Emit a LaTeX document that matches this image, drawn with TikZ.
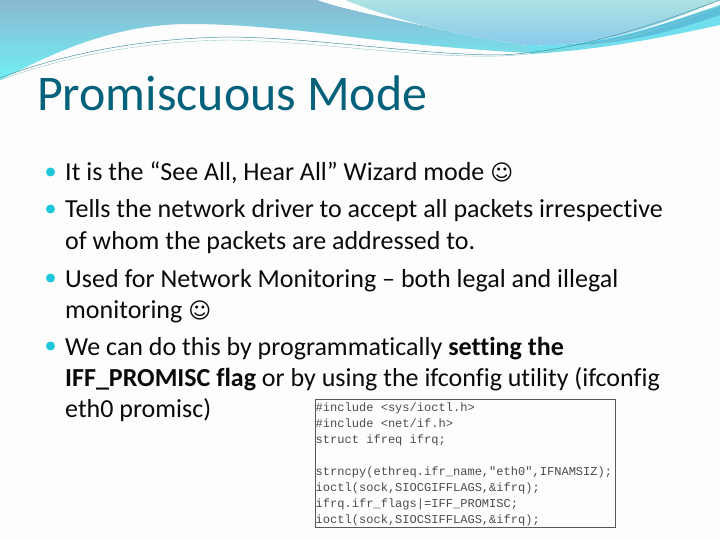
\documentclass[tikz,border=0pt]{standalone}
\usepackage{fontspec}
\setmainfont[Ligatures=NoCommon]{Carlito}
\newfontfamily\codefont{Liberation Mono}
\newfontfamily\symfont{DejaVu Sans}
\definecolor{titlecol}{HTML}{04617B}
\definecolor{bulletcol}{HTML}{1CC8DA}
\definecolor{bodycol}{HTML}{0A0A0A}
\definecolor{pagecol}{HTML}{FDFDFD}
\definecolor{waveA}{RGB}{138,184,210}
\definecolor{waveM}{RGB}{116,216,232}
\definecolor{waveB}{RGB}{112,240,244}
\definecolor{waveE}{RGB}{172,226,226}
\definecolor{waveF}{RGB}{136,200,236}
\definecolor{waveG}{RGB}{112,222,236}
\definecolor{waveH}{RGB}{92,192,220}
\definecolor{lineA}{RGB}{70,150,165}
\definecolor{lineB}{RGB}{150,200,205}
\tikzset{
  titletext/.style={anchor=base west,inner sep=0pt,text=titlecol,font=\fontsize{49.9}{50}\selectfont},
  bodytext/.style={anchor=base west,inner sep=0pt,text=bodycol,font=\fontsize{26}{26}\selectfont},
  codetext/.style={anchor=base west,inner sep=0pt,text=black!70,font=\codefont\fontsize{12.05}{12}\selectfont},
  bulletdot/.style={circle,fill=bulletcol,draw=none,minimum size=9pt,inner sep=0pt},
  codebox/.style={draw=black!65,line width=0.8pt,fill=pagecol}
}
\newcommand{\smileyface}{{\symfont\fontsize{22}{22}\selectfont ☺}}
\begin{document}
\begin{tikzpicture}[x=1pt,y=-1pt]
\useasboundingbox (0,0) rectangle (720,540);
\fill[pagecol] (0,0) rectangle (720,540);
% left wave
\shade[top color=waveA,middle color=waveM,bottom color=waveB]
 (0,0) -- (318,0) .. controls (340,9) and (440,30) .. (528,45) -- (530,53)
 .. controls (470,50) and (400,43) .. (360,38)
 .. controls (300,30) and (240,24) .. (190,24)
 .. controls (110,24) and (50,55) .. (0,80) -- cycle;
% white streak
\fill[pagecol] (318,0) .. controls (340,9) and (440,30) .. (528,45)
 .. controls (460,36) and (400,22) .. (345,0) -- cycle;
% right wave
\shade[top color=waveE,bottom color=waveF]
 (345,0) .. controls (400,22) and (460,36) .. (528,45)
 .. controls (600,48) and (660,25) .. (720,0) -- cycle;
\fill[waveG]
 (528,45) .. controls (600,48) and (660,25) .. (720,5) -- (720,25)
 .. controls (660,38) and (600,50) .. (530,54) -- cycle;
\fill[waveH]
 (560,45) .. controls (610,44) and (660,25) .. (720,6) -- (720,15)
 .. controls (660,36) and (610,46) .. (560,45) -- cycle;
% thin lines
\draw[line width=0.5pt,lineA]
 (0,78) .. controls (60,55) and (140,38) .. (230,37)
 .. controls (320,38) and (420,55) .. (500,55)
 .. controls (570,52) and (640,30) .. (720,0);
\draw[line width=0.4pt,lineB]
 (0,80) .. controls (60,58) and (140,41) .. (230,40)
 .. controls (320,42) and (420,58) .. (500,56)
 .. controls (570,53) and (650,36) .. (720,6);
% title
\node[titletext] (title) at (37,110.5) {Promiscuous Mode};
% bullets
\node[bulletdot] (b1) at (50.5,172) {};
\node[bulletdot] (b2) at (50.5,209) {};
\node[bulletdot] (b3) at (50.5,278) {};
\node[bulletdot] (b4) at (50.5,346) {};
% body
\node[bodytext] (l1) at (65,181) {It is the “See All, Hear All” Wizard mode \smileyface};
\node[bodytext] (l2) at (65,218) {Tells the network driver to accept all packets irrespective};
\node[bodytext] (l3) at (65,249) {of whom the packets are addressed to.};
\node[bodytext] (l4) at (65,287) {Used for Network Monitoring – both legal and illegal};
\node[bodytext] (l5) at (65,318) {monitoring \smileyface};
\node[bodytext] (l6) at (65,355) {We can do this by programmatically \textbf{setting the}};
\node[bodytext] (l7) at (65,386) {\textbf{IFF\_PROMISC flag} or by using the ifconfig utility (ifconfig};
\node[bodytext] (l8) at (65,417) {eth0 promisc)};
% code box
\draw[codebox] (315,399) rectangle (615,527);
\node[codetext] (c1) at (315.5,411.7) {\#include <sys/ioctl.h>};
\node[codetext] (c2) at (315.5,427.6) {\#include <net/if.h>};
\node[codetext] (c3) at (315.5,443.5) {struct ifreq ifrq;};
\node[codetext] (c4) at (315.5,475.3) {strncpy(ethreq.ifr\_name,"eth0",IFNAMSIZ);};
\node[codetext] (c5) at (315.5,491.2) {ioctl(sock,SIOCGIFFLAGS,\&ifrq);};
\node[codetext] (c6) at (315.5,507.1) {ifrq.ifr\_flags|=IFF\_PROMISC;};
\node[codetext] (c7) at (315.5,523) {ioctl(sock,SIOCSIFFLAGS,\&ifrq);};
\end{tikzpicture}
\end{document}
